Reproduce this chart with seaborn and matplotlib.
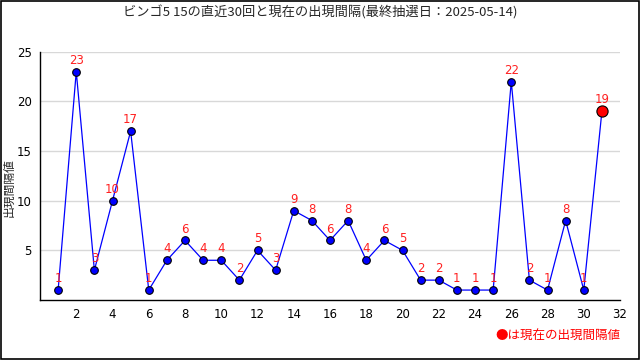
import numpy as np
import pandas as pd
import seaborn as sns
import matplotlib
matplotlib.use("Agg")
import matplotlib.pyplot as plt
from matplotlib.ticker import MultipleLocator

# 直近30回 + 現在の出現間隔
draw_no = list(range(1, 32))
interval = [1, 23, 3, 10, 17, 1, 4, 6, 4, 4, 2, 5, 3, 9, 8, 6, 8, 4, 6, 5,
            2, 2, 1, 1, 1, 22, 2, 1, 8, 1, 19]
y_ticks = [5, 10, 15, 20, 25]
title = "ビンゴ5 15の直近30回と現在の出現間隔(最終抽選日：2025-05-14)"

sns.set_style("white")
plt.rcParams["font.family"] = ["Noto Sans CJK JP", "DejaVu Sans"]

df = pd.DataFrame({"no": draw_no, "interval": interval})

fig = plt.figure(figsize=(6.4, 3.6), dpi=100)
ax = fig.add_axes([0.0625, 0.1667, 0.9063, 0.6896])

sns.lineplot(data=df, x="no", y="interval", ax=ax, color="#0000ff", lw=0.9,
             marker="o", markersize=5.5, markerfacecolor="#0000ff",
             markeredgecolor="black", markeredgewidth=0.8)
sns.scatterplot(data=df.iloc[[-1]], x="no", y="interval", ax=ax, color="#ff0000",
                s=65, edgecolor="black", linewidth=0.8, zorder=5)

for x, y in zip(draw_no, interval):
    ax.annotate(str(y), (x, y), xytext=(0, 3.5), textcoords="offset points",
                ha="center", va="bottom", color="#ff2020", fontsize=8.5,
                family="DejaVu Sans")

ax.set_xlim(0, 32)
ax.set_ylim(0, 25)
ax.set_xticks(range(2, 33, 2))
ax.xaxis.set_minor_locator(MultipleLocator(1))
ax.set_yticks(y_ticks)
ax.yaxis.set_minor_locator(MultipleLocator(1))
ax.tick_params(which="both", direction="in", colors="black", labelsize=8.5)
ax.tick_params(which="major", length=5, width=0.8, pad=6)
ax.tick_params(which="minor", length=3, width=0.8)
for lab in ax.get_xticklabels() + ax.get_yticklabels():
    lab.set_family("DejaVu Sans")
ax.yaxis.grid(True, color="#d8d8d8", lw=1)
ax.set_axisbelow(True)
for s in ["top", "right"]:
    ax.spines[s].set_visible(False)
for s in ["left", "bottom"]:
    ax.spines[s].set_color("black")
    ax.spines[s].set_linewidth(1)

ax.set_xlabel("")
ax.set_ylabel("")
fig.text(0.014, 0.48, "出現間隔値", rotation=90, fontsize=8.5, ha="center", va="center")
fig.suptitle(title, fontsize=9.5, y=0.985)

fig.text(0.97, 0.065, "●は現在の出現間隔値", color="#ff0000", fontsize=9,
         ha="right", va="center")

fig.patches.append(plt.Rectangle((0.001, 0.002), 0.997, 0.996, transform=fig.transFigure,
                                 fill=False, edgecolor="black", lw=1.2))

fig.savefig("out.png", dpi=100)
